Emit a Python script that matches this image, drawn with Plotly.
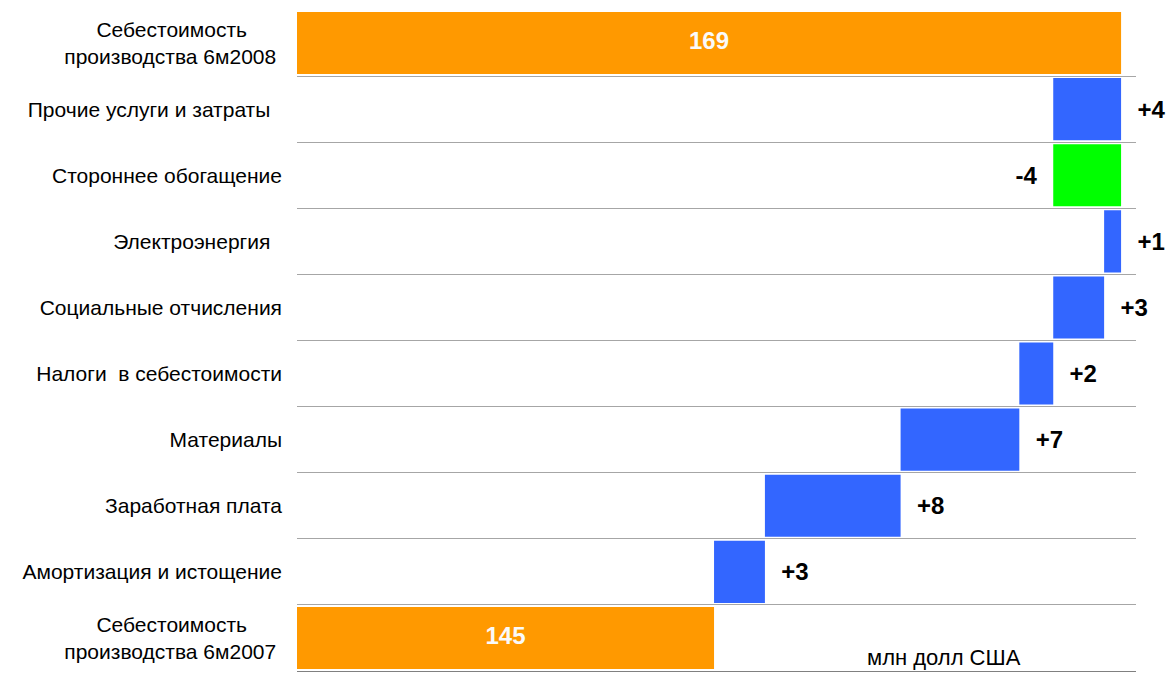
import plotly.graph_objects as go

# Cost bridge: H1 2007 -> H1 2008, million USD
categories = [
    "Себестоимость<br>производства 6м2007",
    "Амортизация и истощение",
    "Заработная плата",
    "Материалы",
    "Налоги  в себестоимости",
    "Социальные отчисления",
    "Электроэнергия",
    "Стороннее обогащение",
    "Прочие услуги и затраты",
    "Себестоимость<br>производства 6м2008",
]
values = [145, 3, 8, 7, 2, 3, 1, -4, 4, 169]
measures = ["absolute"] + ["relative"] * 8 + ["total"]
labels = ["145", "+3", "+8", "+7", "+2", "+3", "+1", "-4", "+4", "169"]

X_MIN, X_MAX = 120.41, 169.88
NB = "\u00a0"
FONT = "Arial, 'Liberation Sans', sans-serif"

# axis labels: centre the two-line captions, keep the trailing blanks of the source
tick_text = []
for c in categories:
    if c.startswith("Себестоимость"):
        first, second = c.split("<br>")
        tick_text.append(first + NB * 6 + "<br>" + second + NB)
    elif c in ("Прочие услуги и затраты", "Электроэнергия"):
        tick_text.append(c + NB * 2)
    else:
        tick_text.append(c.replace("  ", NB + " "))

# step labels sit outside the bars; totals are labelled separately
step_text = []
for m, lab, v in zip(measures, labels, values):
    if m == "relative":
        step_text.append(NB * 2 + lab if v > 0 else lab + NB * 2)
    else:
        step_text.append("")

fig = go.Figure()
fig.add_trace(
    go.Waterfall(
        orientation="h",
        y=categories,
        x=values,
        measure=measures,
        text=step_text,
        textposition="outside",
        outsidetextfont=dict(color="black", size=24, family=FONT, weight="bold"),
        cliponaxis=False,
        connector=dict(visible=False),
        increasing=dict(marker=dict(color="#3366FF")),
        decreasing=dict(marker=dict(color="#00FF00")),
        totals=dict(marker=dict(color="#FF9900")),
        hoverinfo="x+y",
    )
)

# totals: label centred on the visible part of each bar
tot_idx = [i for i, m in enumerate(measures) if m != "relative"]
fig.add_trace(
    go.Scatter(
        x=[(X_MIN + values[i]) / 2 for i in tot_idx],
        y=[categories[i] for i in tot_idx],
        text=[labels[i] for i in tot_idx],
        mode="text",
        textposition="middle center",
        textfont=dict(color="#FAFAFA", size=24, family=FONT, weight="bold"),
        hoverinfo="skip",
        showlegend=False,
    )
)

fig.update_layout(
    width=1171,
    height=675,
    margin=dict(l=297, r=35, t=10, b=4),
    paper_bgcolor="white",
    plot_bgcolor="white",
    waterfallgap=0.06,
    showlegend=False,
    font=dict(family=FONT, size=21, color="black"),
    xaxis=dict(
        range=[X_MIN, X_MAX],
        showticklabels=False,
        showgrid=False,
        zeroline=False,
        showline=True,
        linecolor="#808080",
        linewidth=1,
        ticks="",
    ),
    yaxis=dict(
        type="category",
        categoryorder="array",
        categoryarray=categories,
        tickvals=categories,
        ticktext=tick_text,
        tickson="boundaries",
        showgrid=True,
        gridcolor="#A6A6A6",
        gridwidth=1,
        zeroline=False,
        showline=False,
        ticks="",
        ticklabelstandoff=14,
        tickfont=dict(size=21, color="black", family=FONT),
        range=[-0.5, 9.5],
    ),
    annotations=[
        dict(
            text="млн долл США",
            xref="paper",
            yref="paper",
            x=0.771,
            y=0.021,
            xanchor="center",
            yanchor="middle",
            showarrow=False,
            font=dict(size=22, color="black", family=FONT),
        )
    ],
)

fig.write_html("out.html")
